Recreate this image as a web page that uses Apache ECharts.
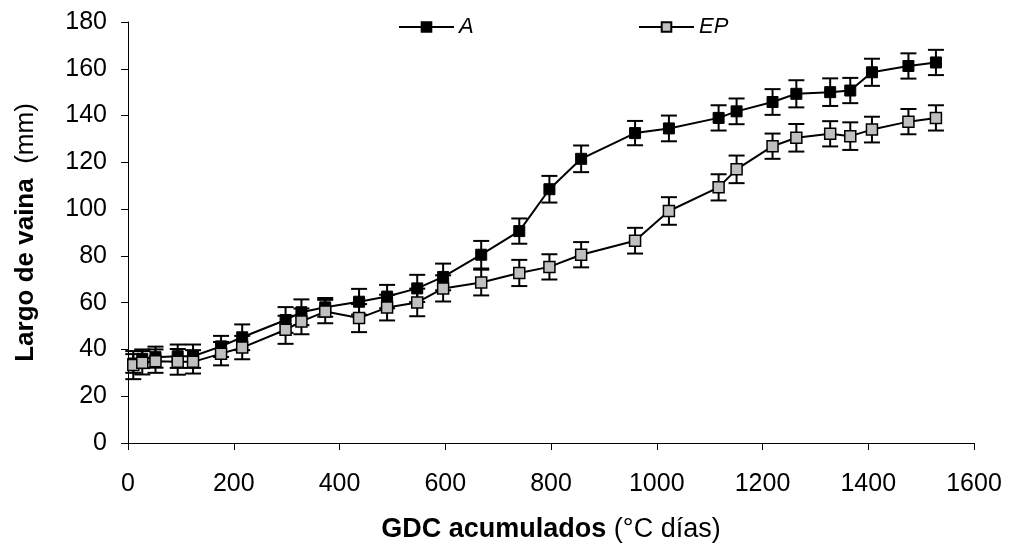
<!DOCTYPE html>
<html><head><meta charset="utf-8">
<script src="https://cdn.jsdelivr.net/npm/echarts/dist/echarts.min.js"></script>
<style>html,body{margin:0;padding:0;background:#fff}#c{width:1017px;height:548px}</style>
</head><body><div id="c"></div>
<script>
const gdc = [10, 27, 52, 94, 123, 176, 216, 298, 328, 373, 437, 490, 547, 596, 668, 740, 797, 857, 959, 1023, 1117, 1151, 1219, 1264, 1328, 1366, 1407, 1476, 1528];
const largoA = [34, 36, 36.7, 37.1, 37.1, 41.3, 45.2, 52.6, 55.9, 58.0, 60.4, 62.6, 66.1, 71.0, 80.5, 90.6, 108.5, 121.5, 132.5, 134.5, 139.0, 141.8, 145.8, 149.3, 150.0, 150.7, 158.5, 161.2, 162.7];
const errA = [4, 4, 4.5, 5, 5, 4.5, 5.5, 5.5, 5.5, 4, 5.5, 5, 5.8, 5.7, 5.9, 5.4, 5.7, 5.7, 5.2, 5.5, 5.4, 5.5, 5.5, 5.8, 5.9, 5.4, 5.8, 5.4, 5.4];
const largoEP = [33.3, 34.3, 35.0, 34.7, 34.7, 38.2, 40.8, 48.4, 52.0, 56.2, 53.4, 57.9, 60.1, 66.1, 68.6, 72.7, 75.3, 80.5, 86.5, 99.2, 109.3, 117.0, 126.9, 130.5, 132.2, 131.2, 134.0, 137.4, 139.0];
const errEP = [6, 5, 5, 5.5, 5, 5, 5, 6, 5.5, 5, 6, 5.5, 5.9, 5.6, 5.5, 5.6, 5.4, 5.4, 5.5, 5.9, 5.6, 5.9, 5.4, 5.9, 5.4, 5.9, 5.5, 5.4, 5.4];
const seriesNames = ['A', 'EP'];

const FONT = '"Liberation Sans", Arial, sans-serif';

function errRender(params, api) {
  const x = api.value(0), lo = api.value(1), hi = api.value(2);
  const p1 = api.coord([x, hi]), p2 = api.coord([x, lo]);
  const w = 8;
  const st = { stroke: '#000', lineWidth: 2 };
  return { type: 'group', children: [
    { type: 'line', shape: { x1: p1[0], y1: p1[1], x2: p2[0], y2: p2[1] }, style: st },
    { type: 'line', shape: { x1: p1[0] - w, y1: p1[1], x2: p1[0] + w, y2: p1[1] }, style: st },
    { type: 'line', shape: { x1: p2[0] - w, y1: p2[1], x2: p2[0] + w, y2: p2[1] }, style: st }
  ]};
}

const chart = echarts.init(document.getElementById('c'));
const legendBase = {
  itemWidth: 55, itemHeight: 12, itemGap: 8,
  textStyle: { fontStyle: 'italic', fontSize: 22, fontFamily: FONT, color: '#000' }
};
chart.setOption({
  animation: false,
  backgroundColor: '#fff',
  grid: { left: 128, right: 43, top: 22, bottom: 102, containLabel: false },
  legend: [
    Object.assign({ data: [seriesNames[0]], left: 393, top: 11 }, legendBase),
    Object.assign({ data: [seriesNames[1]], left: 633, top: 11 }, legendBase)
  ],
  xAxis: {
    type: 'value', min: 0, max: 1600, interval: 200,
    axisLine: { lineStyle: { color: '#000', width: 1 } },
    axisTick: { show: true, length: 7, lineStyle: { color: '#000' } },
    axisLabel: { fontSize: 25, color: '#000', fontFamily: FONT, margin: 29, formatter: v => String(v) },
    splitLine: { show: false },
    name: '{b|GDC acumulados}{n| (°C días)}',
    nameLocation: 'middle', nameGap: 73,
    nameTextStyle: { color: '#000', fontFamily: FONT, rich: {
      b: { fontWeight: 'bold', fontSize: 27, fontFamily: FONT, color: '#000' },
      n: { fontSize: 27, fontFamily: FONT, color: '#000' } } }
  },
  yAxis: {
    type: 'value', min: 0, max: 180, interval: 20,
    axisLine: { show: true, lineStyle: { color: '#000', width: 1 } },
    axisTick: { show: true, length: 7, lineStyle: { color: '#000' } },
    axisLabel: { fontSize: 25, color: '#000', fontFamily: FONT, margin: 21, formatter: v => String(v) },
    splitLine: { show: false },
    name: '{b|Largo de vaina}{n|  (mm)}',
    nameLocation: 'middle', nameGap: 89, nameRotate: 90,
    nameTextStyle: { color: '#000', fontFamily: FONT, rich: {
      b: { fontWeight: 'bold', fontSize: 26, fontFamily: FONT, color: '#000' },
      n: { fontSize: 26, fontFamily: FONT, color: '#000' } } }
  },
  series: [
    { type: 'custom', name: 'errA', renderItem: errRender, z: 3,
      data: gdc.map((x, i) => [x, largoA[i] - errA[i], largoA[i] + errA[i]]),
      encode: { x: 0, y: [1, 2] }, silent: true },
    { type: 'line', name: seriesNames[0], z: 4,
      data: gdc.map((x, i) => [x, largoA[i]]),
      symbol: 'rect', symbolSize: 11,
      itemStyle: { color: '#000', borderColor: '#000', borderWidth: 1 },
      lineStyle: { color: '#000', width: 2 } },
    { type: 'custom', name: 'errEP', renderItem: errRender, z: 5,
      data: gdc.map((x, i) => [x, largoEP[i] - errEP[i], largoEP[i] + errEP[i]]),
      encode: { x: 0, y: [1, 2] }, silent: true },
    { type: 'line', name: seriesNames[1], z: 6,
      data: gdc.map((x, i) => [x, largoEP[i]]),
      symbol: 'rect', symbolSize: 11,
      itemStyle: { color: '#c0c0c0', borderColor: '#000', borderWidth: 1.5 },
      lineStyle: { color: '#000', width: 2 } }
  ]
});
</script></body></html>
